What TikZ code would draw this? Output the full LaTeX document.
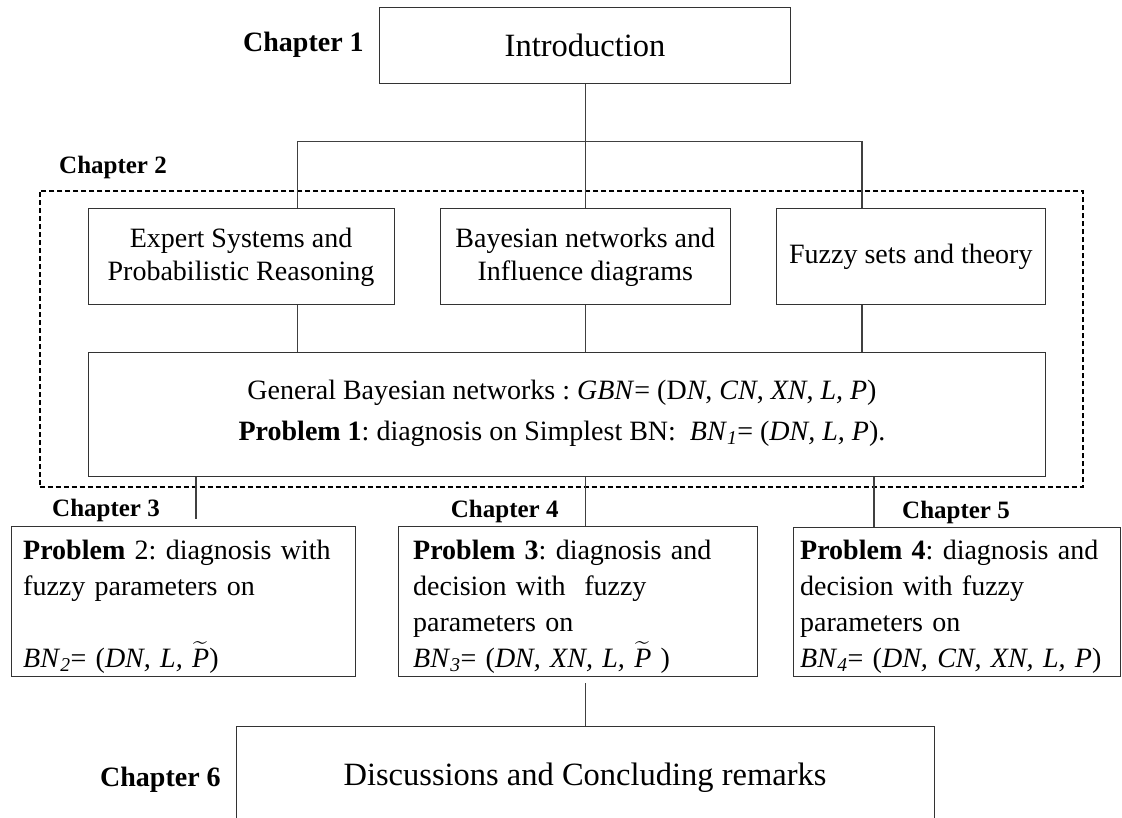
\documentclass[tikz,border=0pt]{standalone}
\usepackage{exscale}
\usepackage{fontspec}
\setmainfont{Liberation Serif}
\usetikzlibrary{calc}
\newcommand\fzP{\ensuremath{\widetilde{\mbox{\textit{P}}}}}
\begin{document}
\frenchspacing
\begin{tikzpicture}[x=1pt,y=-1pt,
  frame/.style={draw=black!80, line width=1.1pt, inner sep=0pt, anchor=north west},
  big/.style={font=\fontsize{32.5}{38}\selectfont},
  body/.style={font=\fontsize{28}{33}\selectfont, align=center},
  chap/.style={font=\fontsize{25}{30}\selectfont\bfseries, inner sep=0pt, anchor=base west},
  chapbig/.style={font=\fontsize{28}{33}\selectfont\bfseries, inner sep=0pt, anchor=base west},
  ptext/.style={font=\fontsize{28}{36}\selectfont, align=left, text width=340pt, inner sep=0pt, anchor=base west},
  wire/.style={draw=black!75, line width=1.1pt},
  group/.style={draw=black, line width=2.2pt, dash pattern=on 5pt off 3pt, inner sep=0pt, anchor=north west},
]
\useasboundingbox (0,0) rectangle (1122,818);
\clip (0,0) rectangle (1122,818);
\fill[white] (0,0) rectangle (1122,818);

% Chapter 1
\node[frame, big, minimum width=411pt, minimum height=76pt] (intro) at (379,7.3) {Introduction};
\node[chapbig] (c1) at (243,51.7) {Chapter 1};

% Chapter 2 group
\node[group, minimum width=1043.5pt, minimum height=295.7pt] (grp) at (38.5,190) {};
\node[chap] (c2) at (59,174) {Chapter 2};

\node[frame, body, minimum width=306pt, minimum height=96pt] (expert) at (87.5,208.3)
  {Expert Systems and\\Probabilistic Reasoning};
\node[frame, body, minimum width=289.5pt, minimum height=96pt] (bayes) at (440,208.3)
  {Bayesian networks and\\Influence diagrams};
\node[frame, body, minimum width=268.6pt, minimum height=96pt] (fuzzy) at (776,208.3)
  {Fuzzy sets and theory};

\node[frame, minimum width=957pt, minimum height=124.3pt] (gbn) at (87.5,351.7) {};
\node[body, anchor=base, inner sep=0pt] (gbn1) at (562,399)
  {General Bayesian networks : \textit{GBN}= (D\textit{N}, \textit{CN}, \textit{XN}, \textit{L, P})};
\node[body, anchor=base, inner sep=0pt] (gbn2) at (562,440)
  {\textbf{Problem 1}: diagnosis on Simplest BN:\ \ \textit{BN}\textsubscript{\textit{1}}= (\textit{DN, L, P}).};

% bus from the introduction to the three background boxes
\coordinate (busL) at (297.5,141.7);
\coordinate (busR) at (862,141.7);
\draw[wire] (intro.south) -- (intro.south |- bayes.north);
\draw[wire] (expert.north -| busL) -- (busL) -- (busR) -- (fuzzy.north -| busR);
\draw[wire] (expert.south -| busL) -- (gbn.north -| busL);
\draw[wire] (bayes.south -| intro.south) -- (gbn.north -| intro.south);
\draw[wire] (fuzzy.south -| busR) -- (gbn.north -| busR);

% Chapters 3--5
\node[frame, minimum width=344pt, minimum height=149.7pt] (p2) at (11,526) {};
\node[frame, minimum width=359pt, minimum height=149.7pt] (p3) at (398,526) {};
\node[frame, minimum width=327pt, minimum height=149pt] (p4) at (793,526.7) {};

\node[chap] (c3) at (52,516.7) {Chapter 3};
\node[chap] (c4) at (450.7,517) {Chapter 4};
\node[chap] (c5) at (902,518) {Chapter 5};

\node[ptext] (p2t) at (23,559.3)
  {\textbf{Problem} 2: diagnosis with\\
   fuzzy parameters on\\
   \mbox{}\\
   \textit{BN}\textsubscript{\textit{2}}= (\textit{DN, L,} \fzP)};
\node[ptext] (p3t) at (413,559.3)
  {\textbf{Problem 3}: diagnosis and\\
   decision with\ \ fuzzy\\
   parameters on\\
   \textit{BN}\textsubscript{\textit{3}}= (\textit{DN, XN, L,} \fzP\ )};
\node[ptext] (p4t) at (800,559.3)
  {\textbf{Problem 4}: diagnosis and\\
   decision with fuzzy\\
   parameters on\\
   \textit{BN}\textsubscript{\textit{4}}= (\textit{DN, CN, XN, L, P})};

\coordinate (d3) at (196,519);
\coordinate (d5) at (874,0);
\draw[wire] (gbn.south -| d3) -- (d3);
\draw[wire] (gbn.south -| intro.south) -- (p3.north -| intro.south);
\draw[wire] (gbn.south -| d5) -- (p4.north -| d5);

% Chapter 6
\node[frame, minimum width=698pt, minimum height=130pt] (ch6) at (236,725.7) {};
\node[big, anchor=base, inner sep=0pt] (ch6t) at (585,785) {Discussions and Concluding remarks};
\node[chapbig] (c6) at (100,786.7) {Chapter 6};
\draw[wire] ($(p3.south -| intro.south)+(0,6.3)$) -- (ch6.north -| intro.south);
\end{tikzpicture}
\end{document}
